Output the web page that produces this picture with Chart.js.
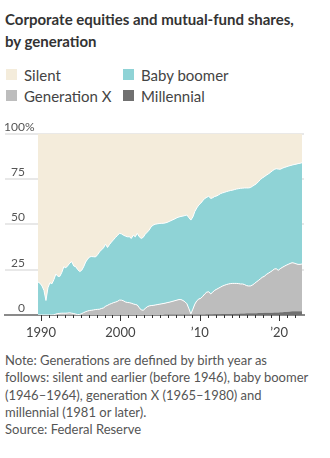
<!DOCTYPE html>
<html>
<head>
<meta charset="utf-8">
<script src="https://cdn.jsdelivr.net/npm/chart.js@4/dist/chart.umd.min.js"></script>
<style>
  html, body { margin: 0; padding: 0; background: #fff; }
  body { width: 330px; height: 458px; overflow: hidden; position: relative; font-family: Lato, "Open Sans", sans-serif; }
  #title { position: absolute; left: 5px; top: 8px; width: 322px; font-weight: 700; font-size: 15px; line-height: 22px; color: #333; }
  #legend { position: absolute; left: 6px; top: 64px; display: grid; grid-template-columns: 117px 180px; row-gap: 0; }
  .item { display: flex; align-items: center; height: 21px; font-size: 15px; color: #444; }
  .swatch { width: 11px; height: 11px; margin-right: 7px; flex: none; }
  #wrap { position: absolute; left: 0; top: 110px; width: 330px; height: 235px; }
  #note { position: absolute; left: 5px; top: 352px; width: 322px; font-size: 13px; line-height: 17.3px; color: #555; }
</style>
</head>
<body>
<div id="title">Corporate equities and mutual-fund shares,<br>by generation</div>
<div id="legend"></div>
<div id="wrap"><canvas id="c" width="330" height="235"></canvas></div>
<div id="note">Note: Generations are defined by birth year as<br>follows: silent and earlier (before 1946), baby boomer<br>(1946–1964), generation X (1965–1980) and<br>millennial (1981 or later).<br>Source: Federal Reserve</div>
<script>
// Quarterly observations, 1989 Q3 through 2022 Q4
const quarters = [];
for (let yr = 1989; yr <= 2022; yr++) {
  for (let q = 1; q <= 4; q++) {
    if (yr === 1989 && q < 3) continue;
    quarters.push(yr + 'Q' + q);
  }
}

// Share of corporate equities and mutual-fund shares held, percent
const silent = [
  81.8, 82.5,
  84.0, 86.5, 92.0, 85.0,
  82.2, 82.8, 80.5, 77.4,
  78.7, 78.7, 76.5, 73.4,
  74.0, 72.8, 71.4, 70.6,
  73.0, 73.4, 75.0, 76.1,
  75.4, 73.4, 70.8, 69.2,
  68.0, 67.8, 67.9, 68.0,
  66.8, 65.2, 64.1, 63.0,
  61.0, 62.8, 61.2, 59.8,
  58.6, 57.3, 56.2, 55.0,
  55.3, 56.0, 56.5, 56.9,
  56.9, 57.8, 56.0, 56.9,
  55.0, 56.9, 57.8, 57.2,
  55.5, 54.4, 53.2, 51.4,
  50.5, 50.0, 49.8, 49.6,
  49.5, 49.5, 49.3, 49.0,
  48.5, 48.0, 47.5, 47.0,
  46.4, 46.0, 45.7, 45.5,
  45.2, 44.9, 46.4, 47.7,
  46.0, 43.0, 41.0, 39.4,
  38.4, 37.0, 35.8, 35.2,
  34.5, 35.8, 35.4, 34.7,
  34.4, 33.8, 33.1, 32.7,
  32.4, 32.0, 31.7, 31.4,
  31.2, 30.9, 30.6, 30.4,
  30.2, 30.1, 30.0, 30.0,
  30.0, 29.8, 29.1, 28.4,
  27.7, 26.6, 25.4, 24.5,
  23.8, 23.0, 22.3, 21.5,
  20.6, 19.8, 19.4, 19.6,
  19.7, 19.2, 18.7, 18.4,
  18.0, 17.7, 17.4, 17.1,
  16.9, 16.6, 16.4, 16.1
];
const babyBoomer = [
  18.2, 17.5,
  16.0, 13.5, 8.0, 15.0,
  17.8, 17.2, 19.4, 22.1,
  20.5, 20.4, 22.5, 25.6,
  25.0, 26.1, 27.4, 28.4,
  26.2, 26.1, 24.8, 23.6,
  23.8, 25.3, 27.4, 28.6,
  29.5, 29.6, 29.3, 29.0,
  30.1, 31.6, 32.3, 33.1,
  34.2, 31.9, 32.9, 33.9,
  34.6, 35.6, 36.3, 36.8,
  36.5, 36.2, 36.3, 36.2,
  36.3, 35.7, 37.9, 37.3,
  39.5, 39.1, 39.4, 40.2,
  40.9, 41.1, 41.8, 43.4,
  44.2, 44.5, 44.5, 44.5,
  44.4, 44.2, 44.2, 44.2,
  44.5, 44.7, 44.9, 45.1,
  45.4, 45.5, 45.8, 46.5,
  47.5, 48.9, 50.1, 51.7,
  50.8, 51.0, 51.2, 51.8,
  52.4, 52.7, 52.6, 52.2,
  52.7, 52.6, 52.0, 51.7,
  51.4, 51.4, 51.5, 51.3,
  51.2, 51.2, 51.2, 51.3,
  51.4, 51.7, 52.0, 52.3,
  52.7, 52.8, 53.2, 53.8,
  54.0, 54.2, 54.4, 54.3,
  54.1, 54.4, 54.7, 54.7,
  54.9, 54.7, 54.7, 54.8,
  55.0, 54.9, 55.1, 55.8,
  54.8, 54.6, 54.5, 54.2,
  54.1, 53.9, 53.8, 54.3,
  54.9, 55.5, 55.7, 55.8
];
const generationX = [
  0, 0,
  0, 0, 0, 0,
  0, 0, 0.1, 0.5,
  0.8, 0.9, 1.0, 1.0,
  1.0, 1.1, 1.2, 1.0,
  0.8, 0.5, 0.2, 0.3,
  0.8, 1.3, 1.8, 2.2,
  2.5, 2.6, 2.8, 3.0,
  3.1, 3.2, 3.6, 3.9,
  4.8, 5.3, 5.9, 6.3,
  6.8, 7.1, 7.5, 8.2,
  8.2, 7.8, 7.2, 6.9,
  6.8, 6.5, 6.1, 5.8,
  5.5, 4.0, 2.8, 2.6,
  3.6, 4.5, 5.0, 5.2,
  5.3, 5.5, 5.7, 5.9,
  6.1, 6.25, 6.4, 6.7,
  6.9, 7.2, 7.5, 7.8,
  8.1, 8.4, 8.4, 7.9,
  7.2, 6.1, 3.4, 0.5,
  3.1, 5.9, 7.7, 8.6,
  9.0, 10.1, 11.4, 12.3,
  12.5, 11.3, 12.3, 13.2,
  13.8, 14.4, 15.0, 15.5,
  15.9, 16.3, 16.5, 16.7,
  16.8, 16.7, 16.7, 16.6,
  16.3, 16.3, 16.0, 15.3,
  15.1, 15.1, 15.5, 16.3,
  17.2, 17.9, 18.8, 19.7,
  20.1, 21.1, 21.8, 22.4,
  23.1, 23.9, 24.1, 23.2,
  24.0, 24.7, 25.2, 25.7,
  26.1, 26.5, 26.8, 26.6,
  26.2, 25.9, 25.8, 26.0
];
const millennial = [
  0, 0,
  0, 0, 0, 0,
  0, 0, 0, 0,
  0, 0, 0, 0,
  0, 0, 0, 0,
  0, 0, 0, 0,
  0, 0, 0, 0,
  0, 0, 0, 0,
  0, 0, 0, 0,
  0, 0, 0, 0,
  0, 0, 0, 0,
  0, 0, 0, 0,
  0, 0, 0, 0,
  0, 0, 0, 0,
  0, 0, 0, 0,
  0, 0, 0, 0,
  0, 0.05, 0.1, 0.1,
  0.1, 0.1, 0.1, 0.1,
  0.1, 0.1, 0.1, 0.1,
  0.1, 0.1, 0.1, 0.1,
  0.1, 0.1, 0.1, 0.2,
  0.2, 0.2, 0.2, 0.3,
  0.3, 0.3, 0.3, 0.4,
  0.4, 0.4, 0.4, 0.5,
  0.5, 0.5, 0.6, 0.6,
  0.6, 0.7, 0.7, 0.7,
  0.8, 0.8, 0.8, 0.9,
  0.9, 0.9, 1.0, 1.0,
  1.0, 1.1, 1.1, 1.1,
  1.2, 1.2, 1.2, 1.3,
  1.3, 1.4, 1.4, 1.4,
  1.5, 1.5, 1.6, 1.7,
  1.8, 1.9, 2.0, 2.0,
  2.0, 2.0, 2.1, 2.1
];

// Axis ticks
const yTickValues = [0, 25, 50, 75, 100];
const yTickLabels = ['0', '25', '50', '75', '100%'];
const xTickYears = [1990, 2000, 2010, 2020];
const xTickLabels = ['1990', '2000', '\u201910', '\u201920'];

const COLORS = {
  silent: '#f4ecdb',
  boomer: '#8fd3d6',
  genX: '#bdbdbd',
  millennial: '#707070'
};

// quarter string -> decimal year at the middle of the quarter
const qx = q => +q.slice(0, 4) + (+q.slice(5) - 0.5) / 4;
const pts = arr => arr.map((v, i) => ({ x: qx(quarters[i]), y: v }));

const datasets = [
  { label: 'Millennial', data: pts(millennial), backgroundColor: COLORS.millennial, fill: 'origin', borderWidth: 0 },
  { label: 'Generation X', data: pts(generationX), backgroundColor: COLORS.genX, fill: '-1', borderColor: '#ffffff', borderWidth: 1 },
  { label: 'Baby boomer', data: pts(babyBoomer), backgroundColor: COLORS.boomer, fill: '-1', borderColor: '#ffffff', borderWidth: 1 },
  { label: 'Silent', data: pts(silent), backgroundColor: COLORS.silent, fill: '-1', borderWidth: 0 }
];

// Year tick marks and y-axis labels
const axisDecor = {
  id: 'axisDecor',
  afterDraw(chart) {
    const { ctx, scales: { x, y }, chartArea } = chart;
    ctx.save();
    ctx.strokeStyle = '#333';
    ctx.lineWidth = 1;
    x.ticks.forEach(t => {
      const px = Math.round(x.getPixelForValue(t.value)) + 0.5;
      const len = xTickYears.includes(t.value) ? 6 : 3;
      ctx.beginPath();
      ctx.moveTo(px, chartArea.bottom);
      ctx.lineTo(px, chartArea.bottom + len);
      ctx.stroke();
    });
    ctx.fillStyle = '#555';
    ctx.font = '12px Lato, "Open Sans", sans-serif';
    ctx.textBaseline = 'alphabetic';
    const rightEdge = 25;
    yTickValues.forEach((v, i) => {
      const py = y.getPixelForValue(v) - 3;
      let txt = yTickLabels[i];
      let suffix = '';
      if (txt.endsWith('%')) { suffix = '%'; txt = txt.slice(0, -1); }
      ctx.textAlign = 'right';
      ctx.fillText(txt, rightEdge, py);
      if (suffix) { ctx.textAlign = 'left'; ctx.fillText(suffix, rightEdge, py); }
    });
    ctx.restore();
  }
};

const pxPerYear = 7.94;
const xMin = 1990 - 36 / pxPerYear;
const xMax = xMin + 299 / pxPerYear;

const chart = new Chart(document.getElementById('c'), {
  type: 'line',
  data: { datasets },
  options: {
    responsive: false,
    devicePixelRatio: 1,
    animation: false,
    events: [],
    layout: { padding: { top: 23.5, left: 5, right: 26, bottom: 0 } },
    elements: { point: { radius: 0 }, line: { tension: 0 } },
    plugins: { legend: { display: false }, tooltip: { enabled: false } },
    scales: {
      x: {
        type: 'linear',
        min: xMin,
        max: xMax,
        z: 1,
        afterBuildTicks: s => {
          const t = [];
          for (let yr = 1990; yr <= 2022; yr++) t.push({ value: yr });
          s.ticks = t;
        },
        afterFit: s => { s.height = 30; },
        grid: { display: false },
        border: { display: true, color: '#8a8a8a', width: 2 },
        ticks: {
          autoSkip: false,
          maxRotation: 0,
          padding: 2,
          color: '#444',
          font: { family: 'Lato', size: 13 },
          callback: v => {
            const i = xTickYears.indexOf(v);
            return i >= 0 ? xTickLabels[i] : '';
          }
        }
      },
      y: {
        stacked: true,
        min: 0,
        max: 100,
        z: 1,
        afterBuildTicks: s => { s.ticks = yTickValues.map(v => ({ value: v })); },
        afterFit: s => { s.width = 0; },
        border: { display: false },
        grid: { color: 'rgba(226,226,226,0.8)', lineWidth: 2, drawTicks: false },
        ticks: { display: false }
      }
    }
  },
  plugins: [axisDecor]
});

// Legend built from the chart's datasets
const legendOrder = ['Silent', 'Baby boomer', 'Generation X', 'Millennial'];
const legendEl = document.getElementById('legend');
legendOrder.forEach(name => {
  const ds = chart.data.datasets.find(d => d.label === name);
  const item = document.createElement('div');
  item.className = 'item';
  const sw = document.createElement('span');
  sw.className = 'swatch';
  sw.style.background = ds.backgroundColor;
  item.appendChild(sw);
  item.appendChild(document.createTextNode(name));
  legendEl.appendChild(item);
});
</script>
</body>
</html>
